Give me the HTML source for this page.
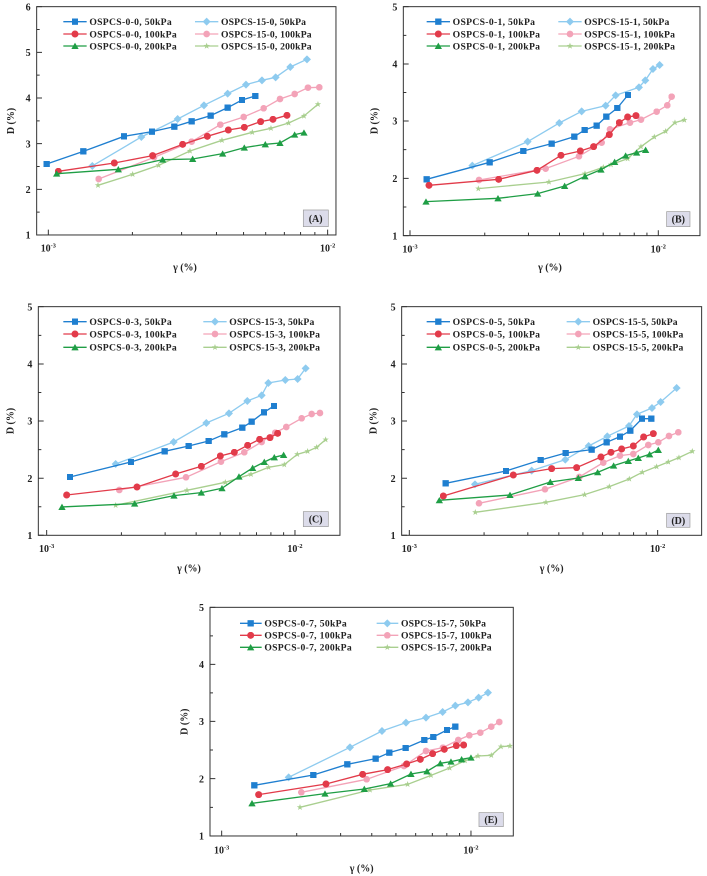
<!DOCTYPE html>
<html><head><meta charset="utf-8"><style>
html,body{margin:0;padding:0;background:#fff}
svg{display:block}
text{font-family:"Liberation Serif",serif;font-weight:bold;fill:#222}
.tk{font-size:30px}
.lg{font-size:29px}
.ax{font-size:30px}
.fr{fill:none;stroke:#333;stroke-width:3}
.b{fill:none;stroke:#1f7fd0;stroke-width:4;marker-start:url(#mB);marker-mid:url(#mB);marker-end:url(#mB)}
.lb{fill:none;stroke:#8ecbef;stroke-width:4;marker-start:url(#mLB);marker-mid:url(#mLB);marker-end:url(#mLB)}
.r{fill:none;stroke:#e23b4a;stroke-width:4;marker-start:url(#mR);marker-mid:url(#mR);marker-end:url(#mR)}
.p{fill:none;stroke:#f3a3b8;stroke-width:4;marker-start:url(#mP);marker-mid:url(#mP);marker-end:url(#mP)}
.g{fill:none;stroke:#1f9e45;stroke-width:4;marker-start:url(#mG);marker-mid:url(#mG);marker-end:url(#mG)}
.s{fill:none;stroke:#a9cf8f;stroke-width:4;marker-start:url(#mS);marker-mid:url(#mS);marker-end:url(#mS)}
polyline.L{marker-start:none;marker-end:none}
.bx{fill:#dcdcea;stroke:#999;stroke-width:2}
</style></head><body>
<svg id="s" width="707" height="876" viewBox="0 0 707 876" xmlns="http://www.w3.org/2000/svg">
<defs>
<marker id="mB" markerUnits="userSpaceOnUse" viewBox="-10 -10 20 20" markerWidth="19" markerHeight="19" refX="0" refY="0"><rect x="-10" y="-10" width="20" height="20" fill="#1f7fd0"/></marker>
<marker id="mLB" markerUnits="userSpaceOnUse" viewBox="-12 -12 24 24" markerWidth="24" markerHeight="24" refX="0" refY="0"><polygon points="0,-12 12,0 0,12 -12,0" fill="#8ecbef"/></marker>
<marker id="mR" markerUnits="userSpaceOnUse" viewBox="-10 -10 20 20" markerWidth="21" markerHeight="21" refX="0" refY="0"><circle r="10" fill="#e23b4a"/></marker>
<marker id="mP" markerUnits="userSpaceOnUse" viewBox="-10 -10 20 20" markerWidth="20" markerHeight="20" refX="0" refY="0"><circle r="10" fill="#f3a3b8"/></marker>
<marker id="mG" markerUnits="userSpaceOnUse" viewBox="-11 -11 22 22" markerWidth="22" markerHeight="22" refX="0" refY="0"><polygon points="0,-10 11,9 -11,9" fill="#1f9e45"/></marker>
<marker id="mS" markerUnits="userSpaceOnUse" viewBox="-11 -11 22 22" markerWidth="22" markerHeight="22" refX="0" refY="0"><polygon points="0,-10 2.4,-3.2 9.5,-3.1 3.8,1.2 5.9,8.1 0,4 -5.9,8.1 -3.8,1.2 -9.5,-3.1 -2.4,-3.2" fill="#a9cf8f"/></marker>
</defs>
<rect width="707" height="876" fill="#fff"/>

<!-- Panel A -->
<g transform="translate(0,0) scale(0.3333)">
<rect class="fr" x="110" y="20" width="898" height="685"/>
<g id="tA"></g>
<text class="tk" x="92" y="31" text-anchor="end">6</text>
<text class="tk" x="92" y="168" text-anchor="end">5</text>
<text class="tk" x="92" y="305" text-anchor="end">4</text>
<text class="tk" x="92" y="442" text-anchor="end">3</text>
<text class="tk" x="92" y="579" text-anchor="end">2</text>
<text class="tk" x="92" y="716" text-anchor="end">1</text>
<text class="tk" x="145" y="755" text-anchor="middle">10<tspan font-size="19" dy="-12">-3</tspan></text>
<text class="tk" x="983" y="755" text-anchor="middle">10<tspan font-size="19" dy="-12">-2</tspan></text>
<text class="ax" x="555" y="812" text-anchor="middle">γ (%)</text>
<text class="ax" transform="translate(42,363) rotate(-90)" text-anchor="middle">D (%)</text>
<polyline points="190,65 225,65 260,65" class="b L"/><text class="lg" x="268" y="75" textLength="247">OSPCS-0-0, 50kPa</text>
<polyline points="190,102 225,102 260,102" class="r L"/><text class="lg" x="268" y="112" textLength="262">OSPCS-0-0, 100kPa</text>
<polyline points="190,138 225,138 260,138" class="g L"/><text class="lg" x="268" y="148" textLength="262">OSPCS-0-0, 200kPa</text>
<polyline points="585,65 620,65 655,65" class="lb L"/><text class="lg" x="663" y="75" textLength="255">OSPCS-15-0, 50kPa</text>
<polyline points="585,102 620,102 655,102" class="p L"/><text class="lg" x="663" y="112" textLength="272">OSPCS-15-0, 100kPa</text>
<polyline points="585,138 620,138 655,138" class="s L"/><text class="lg" x="663" y="148" textLength="272">OSPCS-15-0, 200kPa</text>
<polyline class="lb" points="277,498 424,411 533,357 612,316 683,281 738,254 786,241 827,232 871,201 921,178"/>
<polyline class="p" points="296,537 462,472 575,425 661,374 731,351 791,325 840,297 884,282 924,263 958,262"/>
<polyline class="s" points="294,556 398,523 476,496 570,453 666,421 757,397 813,385 866,369 912,348 954,313"/>
<polyline class="b" points="140,492 250,454 372,409 456,395 523,380 575,364 632,347 683,323 726,300 766,288"/>
<polyline class="r" points="175,514 343,489 458,467 548,433 622,409 685,390 733,382 782,365 819,358 861,346"/>
<polyline class="g" points="170,521 355,508 488,479 578,477 668,461 733,443 796,433 840,429 884,404 912,398"/>
<rect class="bx" x="910" y="630" width="75" height="50"/><text class="tk" x="947" y="666" text-anchor="middle">(A)</text>
</g>

<!-- Panel B -->
<g transform="translate(355,0) scale(0.3333)">
<rect class="fr" x="145" y="20" width="890" height="687"/>
<g id="tB"></g>
<text class="tk" x="127" y="31" text-anchor="end">5</text>
<text class="tk" x="127" y="203" text-anchor="end">4</text>
<text class="tk" x="127" y="374" text-anchor="end">3</text>
<text class="tk" x="127" y="546" text-anchor="end">2</text>
<text class="tk" x="127" y="718" text-anchor="end">1</text>
<text class="tk" x="165" y="757" text-anchor="middle">10<tspan font-size="19" dy="-12">-3</tspan></text>
<text class="tk" x="910" y="757" text-anchor="middle">10<tspan font-size="19" dy="-12">-2</tspan></text>
<text class="ax" x="585" y="812" text-anchor="middle">γ (%)</text>
<text class="ax" transform="translate(67,363) rotate(-90)" text-anchor="middle">D (%)</text>
<polyline points="215,65 250,65 285,65" class="b L"/><text class="lg" x="293" y="75" textLength="247">OSPCS-0-1, 50kPa</text>
<polyline points="215,102 250,102 285,102" class="r L"/><text class="lg" x="293" y="112" textLength="262">OSPCS-0-1, 100kPa</text>
<polyline points="215,138 250,138 285,138" class="g L"/><text class="lg" x="293" y="148" textLength="262">OSPCS-0-1, 200kPa</text>
<polyline points="610,65 645,65 680,65" class="lb L"/><text class="lg" x="688" y="75" textLength="255">OSPCS-15-1, 50kPa</text>
<polyline points="610,102 645,102 680,102" class="p L"/><text class="lg" x="688" y="112" textLength="272">OSPCS-15-1, 100kPa</text>
<polyline points="610,138 645,138 680,138" class="s L"/><text class="lg" x="688" y="148" textLength="272">OSPCS-15-1, 200kPa</text>
<polyline class="lb" points="352,497 518,425 613,369 680,334 752,317 782,286 852,262 871,241 894,207 914,195"/>
<polyline class="p" points="372,540 572,506 672,469 740,428 765,388 825,368 858,359 905,335 937,316 950,290"/>
<polyline class="s" points="370,566 582,546 690,521 745,502 768,494 818,476 858,440 898,411 932,394 960,368 988,360"/>
<polyline class="b" points="215,538 404,487 505,453 590,431 658,410 689,390 725,377 754,350 787,324 819,285"/>
<polyline class="r" points="222,556 431,538 546,511 618,466 676,453 716,440 763,404 793,368 818,351 843,347"/>
<polyline class="g" points="213,605 429,595 548,581 629,558 690,529 738,509 779,486 812,467 845,458 872,450"/>
<rect class="bx" x="935" y="635" width="70" height="45"/><text class="tk" x="970" y="668" text-anchor="middle">(B)</text>
</g>

<!-- Panel C -->
<g transform="translate(0,260) scale(0.3333)">
<rect class="fr" x="115" y="140" width="905" height="686"/>
<g id="tC"></g>
<text class="tk" x="97" y="151" text-anchor="end">5</text>
<text class="tk" x="97" y="323" text-anchor="end">4</text>
<text class="tk" x="97" y="494" text-anchor="end">3</text>
<text class="tk" x="97" y="666" text-anchor="end">2</text>
<text class="tk" x="97" y="837" text-anchor="end">1</text>
<text class="tk" x="140" y="876" text-anchor="middle">10<tspan font-size="19" dy="-12">-3</tspan></text>
<text class="tk" x="885" y="876" text-anchor="middle">10<tspan font-size="19" dy="-12">-2</tspan></text>
<text class="ax" x="567" y="935" text-anchor="middle">γ (%)</text>
<text class="ax" transform="translate(40,483) rotate(-90)" text-anchor="middle">D (%)</text>
<polyline points="190,185 225,185 260,185" class="b L"/><text class="lg" x="268" y="195" textLength="247">OSPCS-0-3, 50kPa</text>
<polyline points="190,222 225,222 260,222" class="r L"/><text class="lg" x="268" y="232" textLength="262">OSPCS-0-3, 100kPa</text>
<polyline points="190,262 225,262 260,262" class="g L"/><text class="lg" x="268" y="272" textLength="262">OSPCS-0-3, 200kPa</text>
<polyline points="610,185 645,185 680,185" class="lb L"/><text class="lg" x="688" y="195" textLength="255">OSPCS-15-3, 50kPa</text>
<polyline points="610,222 645,222 680,222" class="p L"/><text class="lg" x="688" y="232" textLength="272">OSPCS-15-3, 100kPa</text>
<polyline points="610,262 645,262 680,262" class="s L"/><text class="lg" x="688" y="272" textLength="272">OSPCS-15-3, 200kPa</text>
<polyline class="lb" points="347,612 521,546 619,489 687,460 742,423 785,406 805,369 856,360 893,357 917,325"/>
<polyline class="p" points="358,690 558,652 663,605 733,577 785,546 826,518 859,501 905,475 935,462 960,459"/>
<polyline class="s" points="347,736 561,691 676,667 753,643 806,622 853,614 892,583 923,574 950,562 977,539"/>
<polyline class="b" points="210,651 393,606 494,574 566,558 626,543 673,523 727,503 755,485 792,457 822,438"/>
<polyline class="r" points="200,705 411,681 527,642 604,619 661,588 703,577 743,556 779,538 810,533 833,520"/>
<polyline class="g" points="186,741 404,731 522,707 604,698 666,685 717,650 758,624 793,606 823,592 851,585"/>
<rect class="bx" x="910" y="755" width="75" height="45"/><text class="tk" x="947" y="788" text-anchor="middle">(C)</text>
</g>

<!-- Panel D -->
<g transform="translate(355,260) scale(0.3333)">
<rect class="fr" x="140" y="140" width="900" height="686"/>
<g id="tD"></g>
<text class="tk" x="122" y="151" text-anchor="end">5</text>
<text class="tk" x="122" y="323" text-anchor="end">4</text>
<text class="tk" x="122" y="494" text-anchor="end">3</text>
<text class="tk" x="122" y="666" text-anchor="end">2</text>
<text class="tk" x="122" y="837" text-anchor="end">1</text>
<text class="tk" x="163" y="876" text-anchor="middle">10<tspan font-size="19" dy="-12">-3</tspan></text>
<text class="tk" x="908" y="876" text-anchor="middle">10<tspan font-size="19" dy="-12">-2</tspan></text>
<text class="ax" x="590" y="935" text-anchor="middle">γ (%)</text>
<text class="ax" transform="translate(65,483) rotate(-90)" text-anchor="middle">D (%)</text>
<polyline points="215,185 250,185 285,185" class="b L"/><text class="lg" x="293" y="195" textLength="247">OSPCS-0-5, 50kPa</text>
<polyline points="215,222 250,222 285,222" class="r L"/><text class="lg" x="293" y="232" textLength="262">OSPCS-0-5, 100kPa</text>
<polyline points="215,262 250,262 285,262" class="g L"/><text class="lg" x="293" y="272" textLength="262">OSPCS-0-5, 200kPa</text>
<polyline points="635,185 670,185 705,185" class="lb L"/><text class="lg" x="713" y="195" textLength="255">OSPCS-15-5, 50kPa</text>
<polyline points="635,222 670,222 705,222" class="p L"/><text class="lg" x="713" y="232" textLength="272">OSPCS-15-5, 100kPa</text>
<polyline points="635,262 670,262 705,262" class="s L"/><text class="lg" x="713" y="272" textLength="272">OSPCS-15-5, 200kPa</text>
<polyline class="lb" points="360,673 530,632 631,599 701,558 757,529 822,498 846,463 891,444 917,426 965,384"/>
<polyline class="p" points="372,730 570,688 673,651 745,608 795,587 835,582 880,555 910,547 942,528 970,517"/>
<polyline class="s" points="361,757 573,727 689,704 763,680 823,657 862,637 905,620 940,606 972,593 1012,574"/>
<polyline class="b" points="272,670 453,633 557,600 632,579 710,569 755,547 795,530 826,512 861,476 889,476"/>
<polyline class="r" points="265,708 475,645 590,626 665,623 738,591 768,577 800,567 835,558 866,531 895,521"/>
<polyline class="g" points="253,721 465,705 586,666 670,654 728,637 776,617 820,603 850,594 884,583 910,570"/>
<rect class="bx" x="935" y="760" width="70" height="42"/><text class="tk" x="970" y="792" text-anchor="middle">(D)</text>
</g>

<!-- Panel E -->
<g transform="translate(180,620) scale(0.3333)">
<rect class="fr" x="90" y="-38" width="910" height="686"/>
<g id="tE"></g>
<text class="tk" x="72" y="-27" text-anchor="end">5</text>
<text class="tk" x="72" y="144" text-anchor="end">4</text>
<text class="tk" x="72" y="315" text-anchor="end">3</text>
<text class="tk" x="72" y="487" text-anchor="end">2</text>
<text class="tk" x="72" y="659" text-anchor="end">1</text>
<text class="tk" x="125" y="700" text-anchor="middle">10<tspan font-size="19" dy="-12">-3</tspan></text>
<text class="tk" x="873" y="700" text-anchor="middle">10<tspan font-size="19" dy="-12">-2</tspan></text>
<text class="ax" x="545" y="755" text-anchor="middle">γ (%)</text>
<text class="ax" transform="translate(22,305) rotate(-90)" text-anchor="middle">D (%)</text>
<polyline points="180,10 212,10 245,10" class="b L"/><text class="lg" x="253" y="20" textLength="247">OSPCS-0-7, 50kPa</text>
<polyline points="180,46 212,46 245,46" class="r L"/><text class="lg" x="253" y="56" textLength="262">OSPCS-0-7, 100kPa</text>
<polyline points="180,82 212,82 245,82" class="g L"/><text class="lg" x="253" y="92" textLength="262">OSPCS-0-7, 200kPa</text>
<polyline points="590,10 622,10 655,10" class="lb L"/><text class="lg" x="663" y="20" textLength="255">OSPCS-15-7, 50kPa</text>
<polyline points="590,46 622,46 655,46" class="p L"/><text class="lg" x="663" y="56" textLength="272">OSPCS-15-7, 100kPa</text>
<polyline points="590,82 622,82 655,82" class="s L"/><text class="lg" x="663" y="92" textLength="272">OSPCS-15-7, 200kPa</text>
<polyline class="lb" points="326,472 510,382 606,333 678,308 738,293 788,276 826,257 864,247 896,233 924,218"/>
<polyline class="p" points="364,517 560,478 672,438 738,393 789,383 835,360 868,346 901,338 934,320 958,306"/>
<polyline class="s" points="360,562 570,510 683,493 753,466 809,444 855,422 894,408 934,406 963,380 990,378"/>
<polyline class="b" points="223,496 400,465 502,433 587,416 628,398 677,384 733,360 760,351 801,330 826,320"/>
<polyline class="r" points="236,524 438,492 548,463 623,449 680,432 721,418 758,401 793,388 829,377 851,375"/>
<polyline class="g" points="216,550 435,521 553,507 632,491 693,462 741,454 781,430 813,425 845,418 873,413"/>
<rect class="bx" x="897" y="578" width="73" height="42"/><text class="tk" x="933" y="609" text-anchor="middle">(E)</text>
</g>
</svg>
<script>
var P={tA:[110,1008,20,705,145,983,[20,157,294,431,568,705]],
tB:[145,1035,20,707,165,910,[20,192,363,535,707]],
tC:[115,1020,140,826,140,885,[140,312,483,655,826]],
tD:[140,1040,140,826,163,908,[140,312,483,655,826]],
tE:[90,1000,-38,648,125,873,[-38,133,304,476,648]]};
for(var k in P){var p=P[k],d="",L=p[0],B=p[3],x3=p[4],dec=p[5]-p[4];
for(var i=1;i<=10;i++){var x=x3+dec*Math.log10(i);var len=(i==1||i==10)?16:9;d+="M"+x+" "+B+"v"+(-len);}
var ys=p[6];for(var j=0;j<ys.length;j++){d+="M"+L+" "+ys[j]+"h16";if(j<ys.length-1){d+="M"+L+" "+((ys[j]+ys[j+1])/2)+"h9";}}
document.getElementById(k).innerHTML='<path d="'+d+'" stroke="#333" stroke-width="3" fill="none"/>';}
</script>
</body></html>
